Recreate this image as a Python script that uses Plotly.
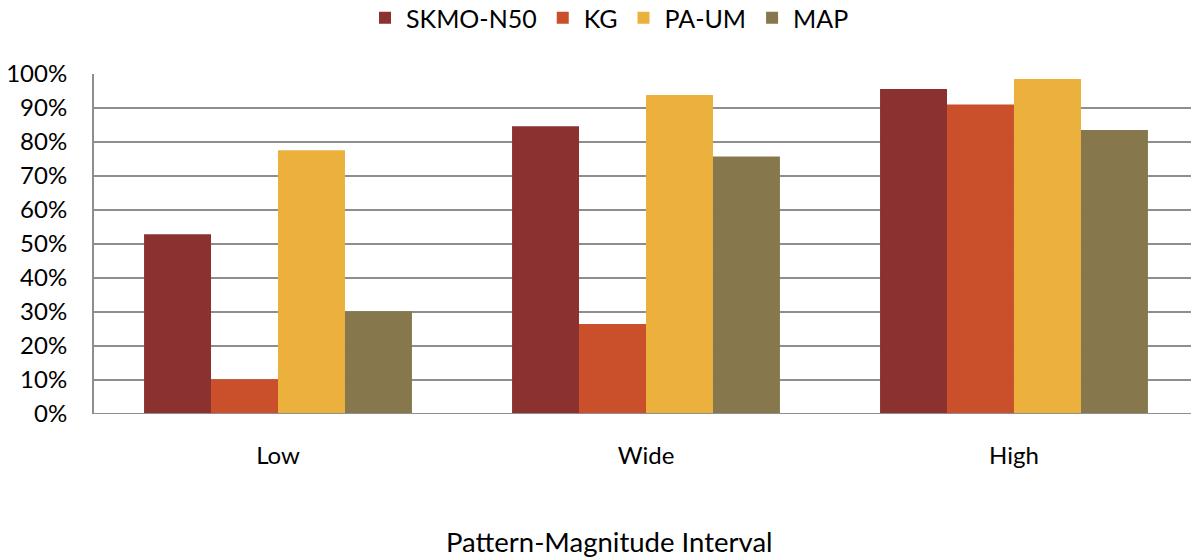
import plotly.graph_objects as go

categories = ["Low", "Wide", "High"]
series_names = ["SKMO-N50", "KG", "PA-UM", "MAP"]
skmo_n50 = [0.529, 0.846, 0.956]
kg = [0.102, 0.265, 0.910]
pa_um = [0.776, 0.938, 0.985]
map_vals = [0.302, 0.757, 0.835]
colors = ["#8B3130", "#C9502A", "#ECB03C", "#86784C"]
y_ticks = [0, 0.1, 0.2, 0.3, 0.4, 0.5, 0.6, 0.7, 0.8, 0.9, 1.0]
x_title = "Pattern-Magnitude Interval"

font = "Lato, 'Open Sans', sans-serif"

fig = go.Figure()
for name, vals, col in zip(series_names, [skmo_n50, kg, pa_um, map_vals], colors):
    fig.add_trace(go.Bar(name=name, x=categories, y=vals, marker=dict(color=col, line=dict(width=0))))

fig.update_layout(
    width=1191, height=558,
    margin=dict(l=94, r=0, t=74, b=144, autoexpand=False),
    paper_bgcolor="white", plot_bgcolor="white",
    barmode="group", bargap=0.272, bargroupgap=0,
    font=dict(family=font, size=23, color="black"),
    showlegend=True,
    legend=dict(orientation="h", x=609 / 1191, xref="container", xanchor="center",
                y=1 - 18 / 558, yref="container", yanchor="middle",
                font=dict(size=25), traceorder="normal", itemwidth=32),
    xaxis=dict(range=[-0.5, 2.481], showgrid=False, showline=False, ticks="",
               ticklabelstandoff=25, tickfont=dict(size=24), automargin=False),
    yaxis=dict(range=[0, 1.0], tickvals=y_ticks, tickformat=".0%", showgrid=True,
               gridcolor="#8e8e8e", gridwidth=2, showline=True, linecolor="#8e8e8e", linewidth=2,
               ticks="", ticklabelstandoff=20, zeroline=False, tickfont=dict(size=24),
               automargin=False),
    annotations=[dict(text=x_title, xref="paper", yref="paper", x=0.470, y=-0.376,
                      xanchor="center", yanchor="middle", showarrow=False,
                      font=dict(size=27.5))],
)
fig.add_shape(type="line", xref="paper", yref="y", x0=0, x1=1, y0=0, y1=0,
              line=dict(color="#8e8e8e", width=2))

fig.write_html("out.html", config={"displayModeBar": False},
               post_script="document.body.style.margin='0';")
